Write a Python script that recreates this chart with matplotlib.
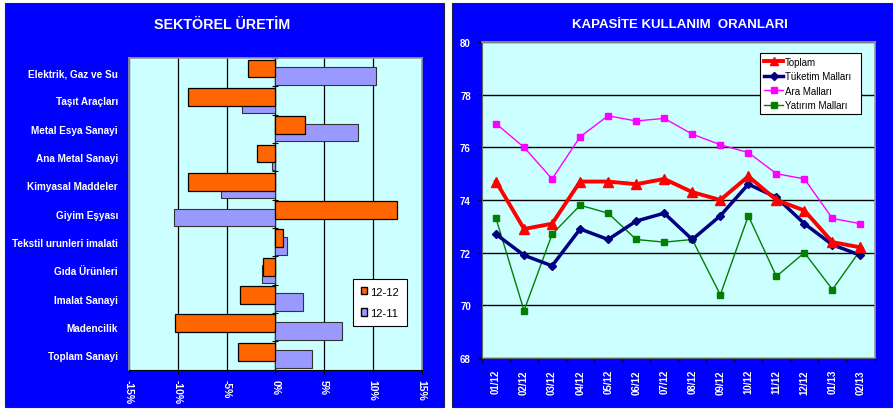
import matplotlib
matplotlib.use('Agg')
import matplotlib.pyplot as plt
from matplotlib.patches import Rectangle, Patch
import numpy as np

plt.rcParams['font.family'] = ['Liberation Sans', 'DejaVu Sans']

# ---------------- data ----------------
sectors = ["Toplam Sanayi", "Madencilik", "Imalat Sanayi", "Gıda Ürünleri",
           "Tekstil urunleri imalati", "Giyim Eşyası", "Kimyasal Maddeler",
           "Ana Metal Sanayi", "Metal Esya Sanayi", "Taşıt Araçları",
           "Elektrik, Gaz ve Su"]
v_1212 = [-3.8, -10.3, -3.6, -1.25, 0.8, 12.45, -8.9, -1.85, 3.0, -9.0, -2.75]
v_1211 = [3.8, 6.8, 2.85, -1.4, 1.2, -10.4, -5.6, -0.3, 8.5, -3.4, 10.3]
bar_labels = ["12-12", "12-11"]
pct_ticks = [-15, -10, -5, 0, 5, 10, 15]

months = ["01/12", "02/12", "03/12", "04/12", "05/12", "06/12", "07/12",
          "08/12", "09/12", "10/12", "11/12", "12/12", "01/13", "02/13"]
toplam = [74.7, 72.9, 73.1, 74.7, 74.7, 74.6, 74.8, 74.3, 74.0, 74.9, 74.0, 73.6, 72.4, 72.2]
tuketim = [72.7, 71.9, 71.5, 72.9, 72.5, 73.2, 73.5, 72.5, 73.4, 74.6, 74.1, 73.1, 72.3, 71.9]
ara = [76.9, 76.0, 74.8, 76.4, 77.2, 77.0, 77.1, 76.5, 76.1, 75.8, 75.0, 74.8, 73.3, 73.1]
yatirim = [73.3, 69.8, 72.7, 73.8, 73.5, 72.5, 72.4, 72.5, 70.4, 73.4, 71.1, 72.0, 70.6, 72.1]
line_labels = ["Toplam", "Tüketim Malları", "Ara Malları", "Yatırım Malları"]
y_ticks = [68, 70, 72, 74, 76, 78, 80]

# ---------------- figure ----------------
W, H = 893, 410
fig = plt.figure(figsize=(W / 100, H / 100), dpi=100)
fig.patch.set_facecolor('white')

BLUE = '#0000FF'
CYAN = '#CCFFFF'


def fx(px):
    return px / W


def fy(py):
    return 1 - py / H


# blue panels
fig.patches.append(Rectangle((fx(5), fy(407.5)), fx(443.5) - fx(5), fy(3.5) - fy(407.5),
                             transform=fig.transFigure, facecolor=BLUE,
                             edgecolor='#202040', lw=0.8, zorder=-10))
fig.patches.append(Rectangle((fx(452.5), fy(407.5)), fx(893) - fx(452.5), fy(3.5) - fy(407.5),
                             transform=fig.transFigure, facecolor=BLUE,
                             edgecolor='#202040', lw=0.8, zorder=-10))

# ---------------- left chart ----------------
axL = fig.add_axes([fx(129), fy(370.5), fx(421.5) - fx(129), fy(59) - fy(370.5)])
axL.set_facecolor(CYAN)
y = np.arange(len(sectors))
h = 0.63
axL.barh(y - 0.13, v_1211, height=h, color='#9999FF', edgecolor='#333333', lw=0.8,
         zorder=3, label=bar_labels[1])
axL.barh(y + 0.13, v_1212, height=h, color='#FF6600', edgecolor='black', lw=0.9,
         zorder=4, label=bar_labels[0])
axL.set_xlim(-15, 15)
axL.set_ylim(-0.5, len(sectors) - 0.5)
axL.set_xticks(pct_ticks)
axL.set_xticklabels([f"{t}%" for t in pct_ticks], rotation=-90, color='white',
                    fontweight='bold', fontsize=7.5)
axL.tick_params(axis='x', length=3, color='black', pad=4)
axL.set_yticks(y)
axL.set_yticklabels(sectors, color='white', fontweight='bold', fontsize=7.2)
axL.tick_params(axis='y', length=0, pad=8)
axL.grid(axis='x', color='black', lw=0.9, zorder=1)
for s in ['top', 'right', 'left']:
    axL.spines[s].set_color('#999999')
    axL.spines[s].set_linewidth(1.2)
axL.spines['bottom'].set_color('black')
# category axis at zero
sec = axL.secondary_yaxis(0.5)
sec.set_yticks(np.arange(-0.5, len(sectors), 1.0))
sec.set_yticklabels([])
sec.tick_params(axis='y', length=4, direction='inout', color='black')
sec.spines['left'].set_color('black')

hL = [Patch(facecolor='#FF6600', edgecolor='black'),
      Patch(facecolor='#9999FF', edgecolor='black')]
legL = fig.legend(hL, bar_labels, loc='upper left',
                  bbox_to_anchor=(fx(353), fy(323), fx(407) - fx(353), fy(280) - fy(323)),
                  bbox_transform=fig.transFigure, mode='expand',
                  fontsize=8, frameon=True, fancybox=False, edgecolor='black',
                  framealpha=1, facecolor='white',
                  handlelength=0.6, handleheight=0.6, handletextpad=0.2,
                  labelspacing=1.0, borderpad=0.7, borderaxespad=0)
legL.get_frame().set_linewidth(0.8)

fig.text(fx(222), fy(25), "SEKTÖREL ÜRETİM", color='white', fontweight='bold',
         fontsize=10.3, ha='center', va='center')

# ---------------- right chart ----------------
axR = fig.add_axes([fx(482), fy(359), fx(874.5) - fx(482), fy(43) - fy(359)])
axR.set_facecolor(CYAN)
x = np.arange(len(months))
axR.plot(x, ara, color='#FF00FF', lw=1.0, marker='s', ms=5, zorder=3, label=line_labels[2])
axR.plot(x, yatirim, color='#008000', lw=1.0, marker='s', ms=5, zorder=3, label=line_labels[3])
axR.plot(x, tuketim, color='#000080', lw=2.5, marker='D', ms=4.5, zorder=4, label=line_labels[1])
axR.plot(x, toplam, color='#FF0000', lw=2.8, marker='^', ms=6.5, zorder=5, label=line_labels[0])
axR.set_xlim(-0.5, len(months) - 0.5)
axR.set_ylim(68, 80)
axR.set_yticks(y_ticks)
axR.set_yticklabels([str(t) for t in y_ticks], color='white', fontweight='bold', fontsize=7)
axR.tick_params(axis='y', length=3, color='black', pad=5)
axR.set_xticks(x)
axR.set_xticklabels(months, rotation=90, color='white', fontweight='bold', fontsize=7)
axR.tick_params(axis='x', which='major', length=0, pad=8)
axR.set_xticks(np.arange(-0.5, len(months), 1.0), minor=True)
axR.tick_params(axis='x', which='minor', length=3, color='black')
axR.grid(axis='y', color='black', lw=1.0, zorder=1)
for s in ['top', 'right']:
    axR.spines[s].set_color('#999999')
    axR.spines[s].set_linewidth(1.2)
axR.spines['left'].set_color('#666666')
axR.spines['bottom'].set_color('#666666')

handles, labels = axR.get_legend_handles_labels()
order = [labels.index(l) for l in line_labels]
legR = fig.legend([handles[i] for i in order], [labels[i] for i in order],
                  loc='upper left',
                  bbox_to_anchor=(fx(760), fy(117), fx(861) - fx(760), fy(54) - fy(117)),
                  bbox_transform=fig.transFigure, mode='expand',
                  fontsize=7, frameon=True, fancybox=False, edgecolor='black',
                  framealpha=1, facecolor='white',
                  handlelength=2.0, handletextpad=0.15, labelspacing=0.45,
                  borderpad=0.4, borderaxespad=0, markerscale=0.8)
legR.get_frame().set_linewidth(0.8)

fig.text(fx(680), fy(25), "KAPASİTE KULLANIM  ORANLARI", color='white', fontweight='bold',
         fontsize=9.5, ha='center', va='center')

fig.savefig('out.png', dpi=100, facecolor='white')
